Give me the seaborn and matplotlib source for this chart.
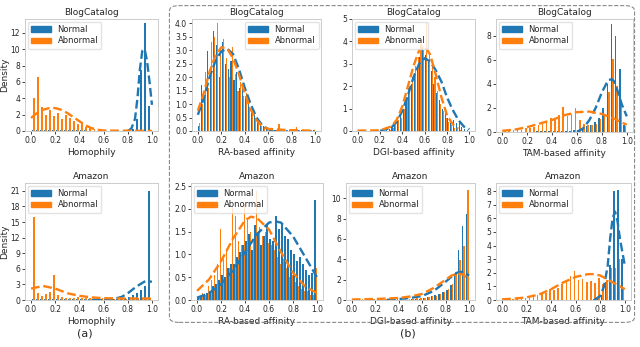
import numpy as np
import pandas as pd
import matplotlib
matplotlib.use("Agg")
import matplotlib.pyplot as plt
import seaborn as sns
from matplotlib.patches import Patch, FancyBboxPatch

BLUE = "#1f77b4"
ORANGE = "#ff7f0e"

# ---- BlogCatalog / Homophily (30 bins) ----
bc_homo_normal = [0.08, 0.08, 0.08, 0.08, 0.08, 0.08, 0.08, 0.08, 0.08, 0.08,
                  0.08, 0.08, 0.08, 0.08, 0.05, 0.05, 0.05, 0.03, 0.03, 0.03,
                  0.03, 0.03, 0.03, 0.05, 0.1, 0.3, 1.5, 7.5, 13.2, 3.0]
bc_homo_abnormal = [4.0, 6.6, 2.9, 2.0, 2.6, 1.8, 2.2, 1.5, 1.9, 1.6,
                    1.2, 0.9, 1.0, 0.5, 0.4, 0.2, 0.05, 0.05, 0.05, 0.05,
                    0.05, 0.05, 0.05, 0.05, 0.05, 0.03, 0.03, 0.03, 0.03, 0.1]
bc_homo_kx_n = [0.8, 0.83, 0.86, 0.88, 0.9, 0.92, 0.94, 0.96, 0.98, 1.0]
bc_homo_ky_n = [0.0, 0.3, 1.5, 4.0, 7.5, 9.8, 10.0, 8.5, 6.0, 3.2]
bc_homo_kx_a = [0.0, 0.05, 0.1, 0.15, 0.2, 0.25, 0.3, 0.35, 0.4, 0.45, 0.5, 0.55, 0.6, 0.7, 0.8, 0.9, 1.0]
bc_homo_ky_a = [1.6, 2.2, 2.6, 2.8, 2.8, 2.6, 2.2, 1.7, 1.2, 0.7, 0.35, 0.15, 0.06, 0.04, 0.04, 0.02, 0.01]

# ---- BlogCatalog / RA (40 bins) ----
bc_ra_normal = [0.2, 1.7, 1.2, 2.95, 2.2, 3.7, 3.2, 2.0, 3.3, 2.5,
                2.3, 2.6, 1.9, 2.2, 1.6, 1.7, 1.3, 1.0, 0.8, 0.6,
                0.4, 0.3, 0.2, 0.1, 0.05, 0.03, 0.02, 0.02, 0.02, 0.02,
                0.02, 0.02, 0.02, 0.02, 0.02, 0.02, 0.02, 0.02, 0.02, 0.02]
bc_ra_abnormal = [0.3, 1.0, 2.2, 1.6, 3.3, 3.5, 4.0, 3.0, 3.4, 2.7,
                  2.0, 3.1, 2.1, 1.5, 1.8, 1.3, 1.4, 0.9, 0.7, 0.5,
                  0.35, 0.2, 0.15, 0.1, 0.05, 0.05, 0.05, 0.25, 0.05, 0.05,
                  0.05, 0.05, 0.05, 0.15, 0.05, 0.05, 0.05, 0.05, 0.05, 0.05]
bc_ra_kx_n = [0.0, 0.05, 0.1, 0.15, 0.2, 0.25, 0.3, 0.35, 0.4, 0.45, 0.5, 0.55, 0.6, 0.65]
bc_ra_ky_n = [0.6, 1.2, 2.0, 2.6, 2.95, 3.05, 2.85, 2.3, 1.6, 1.0, 0.5, 0.2, 0.07, 0.02]
bc_ra_kx_a = [0.0, 0.05, 0.1, 0.15, 0.2, 0.25, 0.3, 0.35, 0.4, 0.45, 0.5, 0.55, 0.6, 0.7, 0.8, 0.9, 1.0]
bc_ra_ky_a = [0.75, 1.4, 2.2, 2.8, 3.1, 3.05, 2.7, 2.1, 1.4, 0.8, 0.4, 0.18, 0.08, 0.05, 0.03, 0.02, 0.01]

# ---- BlogCatalog / DGI (40 bins) ----
bc_dgi_normal = [0, 0, 0, 0, 0, 0, 0, 0, 0, 0,
                 0.05, 0.1, 0.2, 0.3, 0.45, 0.8, 1.0, 1.4, 1.9, 2.1,
                 2.6, 2.9, 3.3, 3.7, 3.4, 3.1, 2.7, 2.1, 1.7, 1.4,
                 1.0, 0.8, 0.6, 0.45, 0.5, 0.35, 0.4, 0.2, 0.1, 0.05]
bc_dgi_abnormal = [0, 0, 0, 0, 0, 0, 0, 0, 0, 0,
                   0.02, 0.05, 0.15, 0.25, 0.5, 0.6, 1.0, 1.5, 1.8, 2.4,
                   2.9, 3.3, 3.9, 3.6, 4.8, 3.4, 3.0, 2.4, 1.8, 1.2,
                   0.9, 0.6, 0.4, 0.25, 0.15, 0.1, 0.05, 0.02, 0.0, 0.0]
bc_dgi_kx_n = [0.2, 0.3, 0.35, 0.4, 0.45, 0.5, 0.55, 0.6, 0.65, 0.7, 0.75, 0.8, 0.85, 0.9, 0.95, 1.0]
bc_dgi_ky_n = [0.0, 0.15, 0.4, 0.9, 1.6, 2.4, 3.0, 3.25, 3.1, 2.7, 2.2, 1.5, 0.95, 0.5, 0.2, 0.08]
bc_dgi_kx_a = [0.0, 0.1, 0.2, 0.3, 0.35, 0.4, 0.45, 0.5, 0.55, 0.6, 0.65, 0.7, 0.75, 0.8, 0.85, 0.9]
bc_dgi_ky_a = [0.02, 0.02, 0.03, 0.2, 0.5, 1.1, 2.0, 2.9, 3.6, 3.8, 3.4, 2.5, 1.5, 0.7, 0.3, 0.1]

# ---- BlogCatalog / TAM (30 bins) ----
bc_tam_normal = [0.02, 0.02, 0.02, 0.02, 0.02, 0.02, 0.03, 0.03, 0.05, 0.05,
                 0.05, 0.05, 0.08, 0.08, 0.1, 0.1, 0.1, 0.15, 0.2, 0.3,
                 0.5, 0.6, 0.8, 1.2, 2.0, 4.0, 9.0, 8.0, 5.2, 0.6]
bc_tam_abnormal = [0.1, 0.1, 0.15, 0.2, 0.2, 0.3, 0.3, 0.4, 0.6, 0.8,
                   0.9, 1.2, 1.0, 1.4, 2.1, 1.3, 1.5, 2.0, 1.0, 0.7,
                   0.6, 0.6, 0.7, 1.1, 1.5, 3.3, 6.1, 3.8, 2.2, 0.5]
bc_tam_kx_n = [0.6, 0.65, 0.7, 0.75, 0.8, 0.85, 0.88, 0.9, 0.93, 0.96, 1.0]
bc_tam_ky_n = [0.0, 0.3, 1.0, 2.0, 3.3, 4.3, 4.4, 4.2, 3.3, 2.3, 1.3]
bc_tam_kx_a = [0.0, 0.1, 0.2, 0.3, 0.4, 0.5, 0.6, 0.7, 0.8, 0.9, 1.0]
bc_tam_ky_a = [0.1, 0.2, 0.4, 0.7, 1.0, 1.4, 1.65, 1.7, 1.5, 1.1, 0.6]

# ---- Amazon / Homophily (30 bins) ----
am_homo_normal = [0.1, 0.1, 0.1, 0.1, 0.1, 0.1, 0.1, 0.1, 0.1, 0.1,
                  0.1, 0.1, 0.1, 0.1, 0.1, 0.1, 0.1, 0.1, 0.1, 0.1,
                  0.15, 0.2, 0.3, 0.4, 0.6, 1.0, 1.3, 2.0, 2.6, 21.0]
am_homo_abnormal = [16.0, 1.3, 0.8, 1.2, 1.6, 4.8, 1.0, 0.5, 0.4, 0.3,
                    0.3, 0.6, 0.4, 0.3, 0.3, 0.3, 0.2, 0.3, 0.2, 0.2,
                    0.2, 0.2, 0.2, 0.2, 0.2, 0.3, 0.3, 0.3, 0.3, 0.3]
am_homo_kx_n = [0.5, 0.6, 0.7, 0.75, 0.8, 0.85, 0.9, 0.95, 1.0]
am_homo_ky_n = [0.0, 0.05, 0.3, 0.6, 1.3, 2.2, 3.0, 3.7, 3.5]
am_homo_kx_a = [0.0, 0.1, 0.2, 0.3, 0.4, 0.5, 0.6, 0.7, 0.8, 0.9, 1.0]
am_homo_ky_a = [2.2, 2.7, 2.2, 1.3, 0.8, 0.5, 0.35, 0.3, 0.3, 0.3, 0.3]

# ---- Amazon / RA (40 bins) ----
am_ra_normal = [0.05, 0.08, 0.1, 0.15, 0.2, 0.3, 0.35, 0.45, 0.55, 0.5,
                0.7, 0.8, 0.8, 0.95, 1.05, 1.2, 1.3, 1.45, 1.1, 1.65,
                1.5, 1.2, 1.4, 1.65, 1.35, 1.3, 1.85, 1.55, 1.7, 1.4,
                1.35, 1.1, 1.0, 0.85, 0.95, 0.8, 0.65, 0.55, 0.6, 2.2]
am_ra_abnormal = [0.05, 0.15, 0.1, 0.3, 0.45, 0.55, 0.8, 1.55, 0.9, 1.1,
                  0.7, 2.05, 1.85, 1.3, 1.2, 2.1, 1.75, 1.5, 1.3, 2.4,
                  1.6, 1.4, 1.5, 1.25, 1.2, 1.1, 0.95, 0.8, 0.9, 0.7,
                  0.5, 0.55, 0.4, 0.3, 0.25, 0.2, 0.2, 0.1, 0.1, 0.7]
am_ra_kx_n = [0.0, 0.1, 0.2, 0.3, 0.4, 0.5, 0.6, 0.65, 0.7, 0.8, 0.9, 1.0]
am_ra_ky_n = [0.05, 0.15, 0.35, 0.65, 1.05, 1.45, 1.7, 1.73, 1.7, 1.4, 0.95, 0.5]
am_ra_kx_a = [0.0, 0.1, 0.2, 0.3, 0.4, 0.45, 0.5, 0.6, 0.7, 0.8, 0.9, 1.0]
am_ra_ky_a = [0.2, 0.45, 0.85, 1.35, 1.75, 1.83, 1.8, 1.55, 1.05, 0.6, 0.3, 0.15]

# ---- Amazon / DGI (30 bins) ----
am_dgi_normal = [0.02, 0.02, 0.02, 0.02, 0.02, 0.02, 0.02, 0.02, 0.02, 0.02,
                 0.02, 0.02, 0.02, 0.03, 0.03, 0.05, 0.08, 0.1, 0.15, 0.25,
                 0.35, 0.45, 0.6, 0.8, 1.0, 1.5, 2.6, 4.9, 7.3, 8.5]
am_dgi_abnormal = [0.05, 0.05, 0.05, 0.05, 0.05, 0.05, 0.05, 0.05, 0.05, 0.05,
                   0.05, 0.05, 0.05, 0.05, 0.1, 0.1, 0.15, 0.15, 0.2, 0.3,
                   0.35, 0.4, 0.55, 0.8, 1.1, 1.6, 2.8, 3.9, 5.3, 10.8]
am_dgi_kx_n = [0.3, 0.4, 0.5, 0.6, 0.7, 0.8, 0.85, 0.9, 0.95, 1.0]
am_dgi_ky_n = [0.02, 0.1, 0.2, 0.4, 0.9, 1.8, 2.3, 2.7, 2.8, 2.4]
am_dgi_kx_a = [0.0, 0.2, 0.4, 0.5, 0.6, 0.7, 0.8, 0.85, 0.9, 0.95, 1.0]
am_dgi_ky_a = [0.05, 0.1, 0.2, 0.35, 0.6, 1.2, 2.0, 2.4, 2.6, 2.5, 2.0]

# ---- Amazon / TAM (30 bins) ----
am_tam_normal = [0.02, 0.02, 0.02, 0.02, 0.02, 0.02, 0.02, 0.02, 0.02, 0.02,
                 0.02, 0.02, 0.02, 0.02, 0.02, 0.02, 0.02, 0.02, 0.02, 0.02,
                 0.03, 0.03, 0.05, 0.1, 0.4, 1.3, 2.6, 8.0, 8.1, 3.0]
am_tam_abnormal = [0.05, 0.05, 0.05, 0.1, 0.1, 0.15, 0.2, 0.3, 0.35, 0.5,
                   0.55, 0.8, 0.75, 0.9, 1.15, 1.4, 1.75, 2.1, 1.5, 1.55,
                   1.3, 1.4, 1.25, 1.6, 1.2, 1.5, 2.35, 2.35, 3.0, 0.8]
am_tam_kx_n = [0.75, 0.8, 0.83, 0.86, 0.88, 0.9, 0.92, 0.94, 0.96, 0.98, 1.0]
am_tam_ky_n = [0.0, 0.3, 1.0, 2.5, 4.5, 6.0, 6.5, 5.8, 4.5, 3.5, 2.5]
am_tam_kx_a = [0.0, 0.1, 0.2, 0.3, 0.4, 0.5, 0.6, 0.7, 0.75, 0.8, 0.9, 1.0]
am_tam_ky_a = [0.05, 0.1, 0.2, 0.4, 0.8, 1.3, 1.7, 1.9, 1.9, 1.8, 1.3, 0.8]


def draw_panel(ax, normal, abnormal, kx_n, ky_n, kx_a, ky_a, title, xlabel,
               yticks, ytop, legend_loc="upper left"):
    n = len(normal)
    centers = (np.arange(n) + 0.5) / n
    df = pd.DataFrame({
        "value": np.r_[centers, centers],
        "weight": np.r_[normal, abnormal],
        "group": ["Normal"] * n + ["Abnormal"] * n,
    })
    sns.histplot(data=df, x="value", weights="weight", hue="group",
                 hue_order=["Normal", "Abnormal"], binwidth=1 / n, binrange=(0, 1),
                 multiple="dodge", shrink=0.75, palette=[BLUE, ORANGE], alpha=1,
                 linewidth=0, legend=False, ax=ax)
    sns.lineplot(x=kx_n, y=ky_n, color=BLUE, linestyle="--", linewidth=1.7, ax=ax)
    sns.lineplot(x=kx_a, y=ky_a, color=ORANGE, linestyle="--", linewidth=1.7, ax=ax)

    ax.set_xlim(-0.05, 1.05)
    ax.set_ylim(0, ytop)
    ax.set_xticks([0.0, 0.2, 0.4, 0.6, 0.8, 1.0])
    ax.set_xticklabels(["0.0", "0.2", "0.4", "0.6", "0.8", "1.0"])
    ax.set_yticks(yticks)
    if isinstance(yticks[1], float):
        ax.set_yticklabels([f"{v:.1f}" for v in yticks])
    ax.tick_params(labelsize=5.5, length=2, width=0.6, pad=1.5,
                   left=True, bottom=True)
    ax.set_title(title, fontsize=6.5, pad=3)
    ax.set_xlabel(xlabel, fontsize=6.5, labelpad=2)
    ax.set_ylabel("")
    for s in ax.spines.values():
        s.set_color("#cccccc")
        s.set_linewidth(0.7)

    handles = [Patch(color=BLUE, label="Normal"), Patch(color=ORANGE, label="Abnormal")]
    ax.legend(handles=handles, loc=legend_loc, fontsize=6, handlelength=2.4,
              handleheight=0.6, frameon=True, edgecolor="#dddddd",
              borderpad=0.4, labelspacing=0.3, handletextpad=0.8,
              borderaxespad=0.3)


sns.set_theme(style="white")
plt.rcParams["font.family"] = ["DejaVu Sans"]

W, H = 640, 347
fig = plt.figure(figsize=(W / 100, H / 100), dpi=100)


def add_axes(left, right, top, bottom):
    return fig.add_axes([left / W, 1 - bottom / H, (right - left) / W, (bottom - top) / H])


ax1 = add_axes(25, 158, 19, 131)
ax2 = add_axes(192, 321, 19, 131)
ax3 = add_axes(352, 475, 19, 131)
ax4 = add_axes(496, 633, 19, 132)
ax5 = add_axes(25, 158, 183, 300)
ax6 = add_axes(191, 323, 183, 300)
ax7 = add_axes(346, 475, 183, 300)
ax8 = add_axes(496, 631, 183, 300)

draw_panel(ax1, bc_homo_normal, bc_homo_abnormal, bc_homo_kx_n, bc_homo_ky_n,
           bc_homo_kx_a, bc_homo_ky_a, "BlogCatalog", "Homophily",
           [0, 2, 4, 6, 8, 10, 12], 13.7)
draw_panel(ax2, bc_ra_normal, bc_ra_abnormal, bc_ra_kx_n, bc_ra_ky_n,
           bc_ra_kx_a, bc_ra_ky_a, "BlogCatalog", "RA-based affinity",
           [0.0, 0.5, 1.0, 1.5, 2.0, 2.5, 3.0, 3.5, 4.0], 4.15, "upper right")
draw_panel(ax3, bc_dgi_normal, bc_dgi_abnormal, bc_dgi_kx_n, bc_dgi_ky_n,
           bc_dgi_kx_a, bc_dgi_ky_a, "BlogCatalog", "DGI-based affinity",
           [0, 1, 2, 3, 4, 5], 5.0)
draw_panel(ax4, bc_tam_normal, bc_tam_abnormal, bc_tam_kx_n, bc_tam_ky_n,
           bc_tam_kx_a, bc_tam_ky_a, "BlogCatalog", "TAM-based affinity",
           [0, 2, 4, 6, 8], 9.4)
draw_panel(ax5, am_homo_normal, am_homo_abnormal, am_homo_kx_n, am_homo_ky_n,
           am_homo_kx_a, am_homo_ky_a, "Amazon", "Homophily",
           [0, 3, 6, 9, 12, 15, 18, 21], 22.5)
draw_panel(ax6, am_ra_normal, am_ra_abnormal, am_ra_kx_n, am_ra_ky_n,
           am_ra_kx_a, am_ra_ky_a, "Amazon", "RA-based affinity",
           [0.0, 0.5, 1.0, 1.5, 2.0, 2.5], 2.57)
draw_panel(ax7, am_dgi_normal, am_dgi_abnormal, am_dgi_kx_n, am_dgi_ky_n,
           am_dgi_kx_a, am_dgi_ky_a, "Amazon", "DGI-based affinity",
           [0, 2, 4, 6, 8, 10], 11.5)
draw_panel(ax8, am_tam_normal, am_tam_abnormal, am_tam_kx_n, am_tam_ky_n,
           am_tam_kx_a, am_tam_ky_a, "Amazon", "TAM-based affinity",
           [0, 1, 2, 3, 4, 5, 6, 7, 8], 8.6)

# "Density" labels placed at ~9 px from the left edge
for ax, (l, r) in [(ax1, (25, 158)), (ax5, (25, 158))]:
    ax.set_ylabel("Density", fontsize=6.5)
    ax.yaxis.set_label_coords((9 - l) / (r - l), 0.5)

# dashed frame around group (b)
box = FancyBboxPatch((172 / W, 26 / H), 460 / W, 314 / H,
                     boxstyle="round,pad=0.004,rounding_size=0.015",
                     transform=fig.transFigure, fill=False, linestyle="--",
                     edgecolor="#8a8a8a", linewidth=0.8)
fig.patches.append(box)

fig.text(85 / W, 1 - 334 / H, "(a)", ha="center", va="center", fontsize=8)
fig.text(408 / W, 1 - 334 / H, "(b)", ha="center", va="center", fontsize=8)

fig.savefig("out.png", dpi=100)
